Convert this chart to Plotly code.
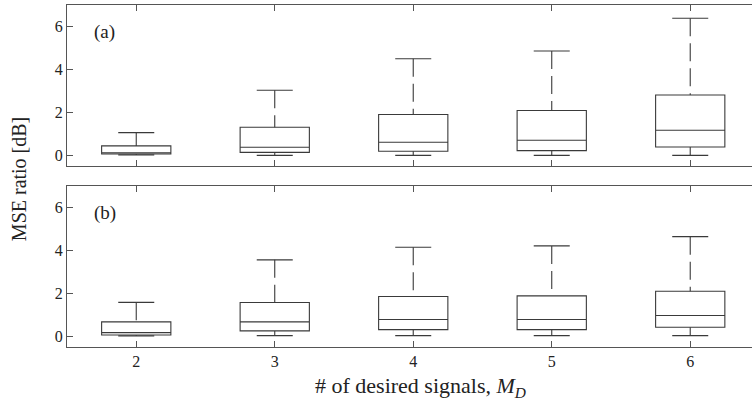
import plotly.graph_objects as go

# ---- data ----
categories = [2, 3, 4, 5, 6]

a_lower = [0.02, 0.0, 0.0, 0.0, 0.0]
a_q1 = [0.06, 0.14, 0.19, 0.22, 0.39]
a_median = [0.12, 0.38, 0.61, 0.70, 1.17]
a_q3 = [0.44, 1.31, 1.90, 2.09, 2.81]
a_upper = [1.06, 3.03, 4.50, 4.86, 6.38]

b_lower = [0.02, 0.03, 0.03, 0.03, 0.03]
b_q1 = [0.06, 0.25, 0.31, 0.31, 0.42]
b_median = [0.17, 0.67, 0.78, 0.78, 0.97]
b_q3 = [0.67, 1.57, 1.85, 1.88, 2.10]
b_upper = [1.58, 3.56, 4.15, 4.21, 4.64]

y_ticks = [0, 2, 4, 6]
panel_labels = ["(a)", "(b)"]

LINE = "#3a3a3a"
FRAME = "#555555"
FONT = "Liberation Serif"
BOXW = 0.5
CAPW = 0.26

fig = go.Figure()


def add_panel(fig, xa, ya, lower, q1, med, q3, upper):
    # boxes (no whiskers - drawn separately, dashed)
    fig.add_trace(go.Box(
        x=categories, q1=q1, median=med, q3=q3,
        lowerfence=q1, upperfence=q3,
        width=BOXW, whiskerwidth=0,
        fillcolor="rgba(0,0,0,0)",
        line=dict(color=LINE, width=1.1),
        boxpoints=False, showlegend=False, hoverinfo="skip",
        xaxis=xa, yaxis=ya,
    ))
    # dashed whiskers
    wx, wy = [], []
    for c, lo, a, b, hi in zip(categories, lower, q1, q3, upper):
        wx += [c, c, None, c, c, None]
        wy += [hi, b, None, lo, a, None]
    fig.add_trace(go.Scatter(
        x=wx, y=wy, mode="lines",
        line=dict(color=LINE, width=1.1, dash="18px,7px"),
        showlegend=False, hoverinfo="skip", xaxis=xa, yaxis=ya,
    ))
    # caps
    cx, cy = [], []
    for c, lo, hi in zip(categories, lower, upper):
        cx += [c - CAPW / 2, c + CAPW / 2, None, c - CAPW / 2, c + CAPW / 2, None]
        cy += [hi, hi, None, lo, lo, None]
    fig.add_trace(go.Scatter(
        x=cx, y=cy, mode="lines",
        line=dict(color=LINE, width=1.1),
        showlegend=False, hoverinfo="skip", xaxis=xa, yaxis=ya,
    ))


add_panel(fig, "x", "y", a_lower, a_q1, a_median, a_q3, a_upper)
add_panel(fig, "x2", "y2", b_lower, b_q1, b_median, b_q3, b_upper)

xcommon = dict(
    range=[1.5, 6.446], tickvals=categories,
    ticks="inside", ticklen=6, tickcolor=FRAME,
    showline=True, linecolor=FRAME, linewidth=1.1, mirror="ticks",
    showgrid=False, zeroline=False, automargin=False,
    tickfont=dict(family=FONT, size=16, color="#222"),
)
ycommon = dict(
    range=[-0.5, 7.0], tickvals=y_ticks,
    ticks="inside", ticklen=6, tickcolor=FRAME,
    showline=True, linecolor=FRAME, linewidth=1.1,
    showgrid=False, zeroline=False, automargin=False,
    tickfont=dict(family=FONT, size=16, color="#222"),
)

fig.update_layout(
    width=752, height=404,
    margin=dict(l=67, r=0, t=5, b=57, autoexpand=False),
    paper_bgcolor="white", plot_bgcolor="white",
    xaxis=dict(**xcommon, domain=[0, 1], anchor="y", showticklabels=False),
    yaxis=dict(**ycommon, domain=[0.529, 1.0], anchor="x"),
    xaxis2=dict(**xcommon, domain=[0, 1], anchor="y2"),
    yaxis2=dict(**ycommon, domain=[0.0, 0.4708], anchor="x2"),
    font=dict(family=FONT, color="#222"),
)

# panel labels
for lbl, xr, yr in zip(panel_labels, ["x domain", "x2 domain"], ["y domain", "y2 domain"]):
    fig.add_annotation(text=lbl, xref=xr, yref=yr, x=0.036, y=0.83,
                       xanchor="left", yanchor="middle", showarrow=False,
                       font=dict(family=FONT, size=19, color="#222"))

# axis titles
fig.add_annotation(text="MSE ratio [dB]", xref="paper", yref="paper",
                   x=-0.069, y=0.49, textangle=-90, showarrow=False,
                   xanchor="center", yanchor="middle",
                   font=dict(family=FONT, size=20, color="#222"))
fig.add_annotation(text="# of desired signals, <i>M</i><sub><i>D</i></sub>",
                   xref="paper", yref="paper", x=0.516, y=-0.117,
                   showarrow=False, xanchor="center", yanchor="middle",
                   font=dict(family=FONT, size=22, color="#222"))

fig.write_html(
    "out.html",
    config={"displayModeBar": False, "staticPlot": True},
    post_script="document.body.style.margin='0';document.body.style.overflow='hidden';",
)
